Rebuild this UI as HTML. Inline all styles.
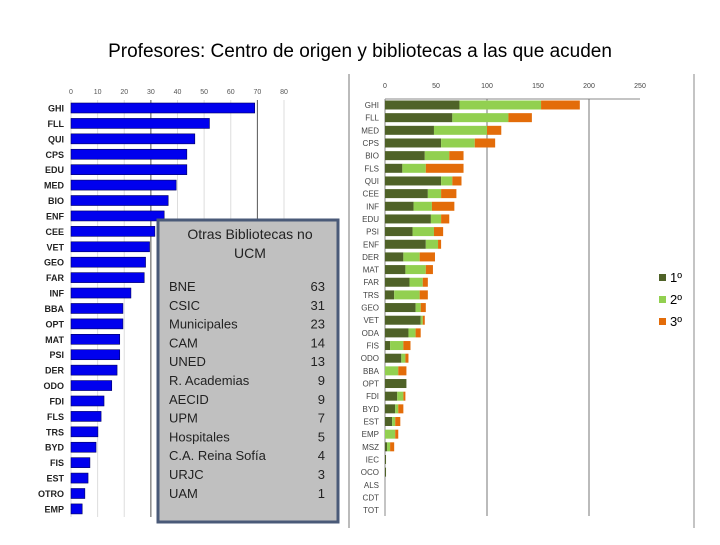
<!DOCTYPE html>
<html><head><meta charset="utf-8"><style>
body{margin:0;background:#fff;}
svg text{font-family:"Liberation Sans",sans-serif;}
</style></head><body>
<svg width="720" height="540" viewBox="0 0 720 540" xmlns="http://www.w3.org/2000/svg">
<text x="360" y="57" text-anchor="middle" font-size="19" fill="#000">Profesores: Centro de origen y bibliotecas a las que acuden</text>
<g id="left"></g>
<g id="right"></g>
<line x1="694" y1="74" x2="694" y2="528" stroke="#888" stroke-width="1"/>
<line x1="349" y1="74" x2="349" y2="528" stroke="#777" stroke-width="1"/>
<g>
<rect x="659" y="274" width="7" height="7" fill="#4f6228"/>
<text x="670" y="282" font-size="13" font-family="Liberation Serif,serif">1º</text>
<rect x="659" y="296" width="7" height="7" fill="#92d050"/>
<text x="670" y="304" font-size="13" font-family="Liberation Serif,serif">2º</text>
<rect x="659" y="318" width="7" height="7" fill="#e36c09"/>
<text x="670" y="326" font-size="13" font-family="Liberation Serif,serif">3º</text>
</g>
<g>
<rect x="158" y="220" width="180" height="302" fill="#c0c0c0" stroke="#4a5a78" stroke-width="3"/>
<text x="250" y="239" text-anchor="middle" font-size="14" fill="#222">Otras Bibliotecas no</text>
<text x="250" y="258" text-anchor="middle" font-size="14" fill="#222">UCM</text>
<g id="boxrows" font-size="13" fill="#222"></g>
</g>
</svg>
<script>
const NS="http://www.w3.org/2000/svg";
function mk(tag,attrs,parent,txt){const e=document.createElementNS(NS,tag);for(const k in attrs)e.setAttribute(k,attrs[k]);if(txt!==undefined)e.textContent=txt;parent.appendChild(e);return e;}

// Left chart data
const leftCats=["GHI","FLL","QUI","CPS","EDU","MED","BIO","ENF","CEE","VET","GEO","FAR","INF","BBA","OPT","MAT","PSI","DER","ODO","FDI","FLS","TRS","BYD","FIS","EST","OTRO","EMP"];
const leftVals=[69,52,46.5,43.5,43.5,39.5,36.5,35,31.5,29.5,28,27.5,22.5,19.5,19.5,18.3,18.3,17.3,15.3,12.4,11.3,10.1,9.4,7.1,6.4,5.2,4.2];
const leftTicks=[0,10,20,30,40,50,60,70,80];

// Right chart data
const rightCats=["GHI","FLL","MED","CPS","BIO","FLS","QUI","CEE","INF","EDU","PSI","ENF","DER","MAT","FAR","TRS","GEO","VET","ODA","FIS","ODO","BBA","OPT","FDI","BYD","EST","EMP","MSZ","IEC","OCO","ALS","CDT","TOT"];
const s1=[73,66,48,55,39,17,55,42,28,45,27,40,18,20,24,9,30,35,23,5,16,0,21,12,10,7,0,2,1,1,0,0,0];
const s2=[80,55,52,33,24,23,11,13,18,10,21,12,16,20,13,25,5,2,7,13,4,13,0,6,3,3,10,3,0,0,0,0,0];
const s3=[38,23,14,20,14,37,9,15,22,8,9,3,15,7,5,8,5,2,5,7,3,8,0,2,5,5,3,4,0,0,0,0,0];
const rightTicks=[0,50,100,150,200,250];

// Box data
const libNames=["BNE","CSIC","Municipales","CAM","UNED","R. Academias","AECID","UPM","Hospitales","C.A. Reina Sofía","URJC","UAM"];
const libVals=[63,31,23,14,13,9,9,7,5,4,3,1];

// Left chart
const L=document.getElementById('left');
const lx=v=>71+v*(213/80);
const ly=i=>108+i*15.42;
leftTicks.forEach(t=>{
  const g=mk('line',{x1:lx(t),x2:lx(t),y1:100,y2:517,stroke:(t===30||t===70)?'#555':'#ddd','stroke-width':1},L);
  
  
  const tx=mk('text',{x:lx(t),y:94,'text-anchor':'middle','font-size':7,fill:'#555'},L,String(t));
  
  
});
leftCats.forEach((c,i)=>{
  const r=mk('rect',{x:lx(0),y:ly(i)-5,width:lx(leftVals[i])-lx(0),height:10,fill:'#0000ee',stroke:'#000060','stroke-width':0.6},L);
  
  
  const t=mk('text',{x:64,y:ly(i)+3.5,'text-anchor':'end','font-size':9,'font-weight':'bold',fill:'#222'},L,c);
  
  
});

// Right chart
const R=document.getElementById('right');
const rx=v=>385+v*1.02;
const ry=i=>105+i*12.66;
mk('line',{x1:385,x2:640,y1:99,y2:99,stroke:'#888'},R);
mk('line',{x1:385,x2:385,y1:99,y2:516,stroke:'#888'},R);
rightTicks.forEach(t=>{
  if(t===100||t===200){const gl=mk('line',{x1:rx(t),x2:rx(t),y1:99,y2:516,stroke:'#777'},R);
  
  }
  const tx=mk('text',{x:rx(t),y:88,'text-anchor':'middle','font-size':7,fill:'#444'},R,String(t));
  
  
});
rightCats.forEach((c,i)=>{
  const y=ry(i)-4.5;
  const a=s1[i],b=s2[i],d=s3[i];
  const segs=[[0,a,'#4f6228'],[a,a+b,'#92d050'],[a+b,a+b+d,'#e36c09']];
  segs.forEach((sg,k)=>{
    if(sg[1]>sg[0]){
      const r=mk('rect',{x:rx(sg[0]),y:y,width:rx(sg[1])-rx(sg[0]),height:9,fill:sg[2]},R);
      
      
    }
  });
  const t=mk('text',{x:379,y:ry(i)+3,'text-anchor':'end','font-size':8,fill:'#444'},R,c);
  
  
});

// Box rows
const B=document.getElementById('boxrows');
libNames.forEach((n,i)=>{
  const y=291+i*18.8;
  const a=mk('text',{x:169,y:y},B,n);
  
  
  const b=mk('text',{x:325,y:y,'text-anchor':'end'},B,String(libVals[i]));
  
  
});
</script>
</body></html>
